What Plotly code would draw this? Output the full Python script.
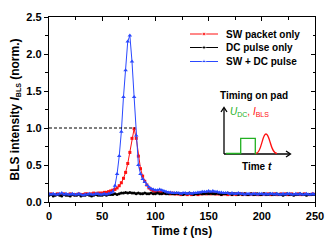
import plotly.graph_objects as go

# ---------------- data ----------------
time_ns = list(range(0, 251, 2))  # 126 samples, 2 ns spacing

sw_packet_only = [
    0.10, 0.11, 0.10, 0.10, 0.11, 0.10, 0.10, 0.11, 0.10, 0.10, 0.11, 0.10, 0.10, 0.10, 0.11, 0.10, 0.10, 0.11, 0.11, 0.10, 0.11, 0.12, 0.11, 0.12, 0.12,
    0.12, 0.13, 0.13, 0.14, 0.15,
    0.16, 0.17, 0.19, 0.22, 0.26, 0.32, 0.40, 0.52, 0.67, 0.86, 0.99, 0.86, 0.62, 0.45, 0.35, 0.28, 0.23, 0.19, 0.17, 0.15,
    0.14, 0.14, 0.13, 0.13, 0.12, 0.12, 0.12, 0.11, 0.12, 0.11, 0.11, 0.11, 0.10, 0.11, 0.11, 0.10, 0.11, 0.10, 0.11, 0.11, 0.10, 0.11, 0.11, 0.12, 0.11,
    0.12, 0.11, 0.12, 0.11, 0.11, 0.11, 0.10, 0.11, 0.11, 0.10, 0.11, 0.10, 0.11, 0.10, 0.11, 0.11, 0.10, 0.11, 0.10, 0.10, 0.11, 0.10, 0.11, 0.10, 0.10,
    0.10, 0.11, 0.10, 0.11, 0.10, 0.10, 0.11, 0.10, 0.10, 0.11, 0.10, 0.11, 0.10, 0.10, 0.11, 0.10, 0.10, 0.11, 0.10, 0.10, 0.11, 0.10, 0.10, 0.10, 0.11, 0.10,
]

dc_pulse_only = [
    0.09, 0.10, 0.08, 0.09, 0.10, 0.09, 0.08, 0.10, 0.09, 0.09, 0.08, 0.10, 0.09, 0.09, 0.10, 0.08, 0.09, 0.09, 0.10, 0.09, 0.08, 0.09, 0.10, 0.09, 0.09,
    0.09, 0.10, 0.09, 0.10, 0.10,
    0.10, 0.11, 0.10, 0.11, 0.12, 0.12, 0.13, 0.12, 0.13, 0.12, 0.12, 0.11, 0.12, 0.11, 0.11, 0.12, 0.11, 0.11, 0.12, 0.11,
    0.11, 0.12, 0.11, 0.11, 0.12, 0.11, 0.11, 0.12, 0.11, 0.11, 0.12, 0.11, 0.11, 0.10, 0.11, 0.11, 0.12, 0.11, 0.10, 0.11, 0.11, 0.12, 0.11, 0.11, 0.12,
    0.11, 0.12, 0.11, 0.11, 0.12, 0.11, 0.10, 0.11, 0.11, 0.12, 0.11, 0.10, 0.11, 0.11, 0.10, 0.11, 0.10, 0.11, 0.10, 0.10, 0.11, 0.10, 0.10, 0.11, 0.10,
    0.10, 0.11, 0.10, 0.10, 0.11, 0.10, 0.10, 0.11, 0.10, 0.10, 0.09, 0.10, 0.11, 0.10, 0.10, 0.09, 0.10, 0.10, 0.11, 0.10, 0.10, 0.09, 0.10, 0.10, 0.10, 0.10,
]

sw_plus_dc = [
    0.11, 0.10, 0.11, 0.10, 0.10, 0.11, 0.12, 0.10, 0.11, 0.10, 0.10, 0.11, 0.10, 0.10, 0.11, 0.10, 0.09, 0.10, 0.10, 0.11, 0.10, 0.10, 0.11, 0.11, 0.10,
    0.10, 0.11, 0.10, 0.11, 0.12,
    0.14, 0.22, 0.38, 0.62, 0.95, 1.42, 1.78, 2.17, 2.25, 1.90, 1.42, 0.90, 0.50, 0.38, 0.31, 0.27, 0.23, 0.20, 0.18, 0.17,
    0.16, 0.16, 0.17, 0.16, 0.15, 0.14, 0.13, 0.13, 0.12, 0.12, 0.12, 0.12, 0.11, 0.12, 0.12, 0.11, 0.12, 0.11, 0.12, 0.12, 0.13, 0.13, 0.14, 0.14, 0.14,
    0.15, 0.14, 0.15, 0.14, 0.14, 0.13, 0.13, 0.12, 0.12, 0.12, 0.11, 0.12, 0.11, 0.11, 0.12, 0.11, 0.11, 0.10, 0.11, 0.11, 0.10, 0.11, 0.11, 0.10, 0.11,
    0.11, 0.10, 0.11, 0.10, 0.11, 0.11, 0.10, 0.11, 0.10, 0.10, 0.11, 0.10, 0.11, 0.11, 0.10, 0.10, 0.11, 0.10, 0.11, 0.10, 0.10, 0.11, 0.10, 0.10, 0.11, 0.10,
]

series_names = ["SW packet only", "DC pulse only", "SW + DC pulse"]
x_ticks = [0, 50, 100, 150, 200, 250]
y_ticks = [0.0, 0.5, 1.0, 1.5, 2.0, 2.5]

# ---------------- figure ----------------
FONT = "Liberation Sans, Arial, sans-serif"
RED = "#ff1010"
BLUE = "#2a48ff"
GREEN = "#22b022"

L, T, W, H = 49, 17, 266, 185  # plot area in pixels

styles = [
    dict(color=RED, symbol="square", size=3),
    dict(color="black", symbol="circle", size=3),
    dict(color=BLUE, symbol="triangle-up", size=4),
]
series = [sw_packet_only, dc_pulse_only, sw_plus_dc]

fig = go.Figure()
for name, ys, st in zip(series_names, series, styles):
    fig.add_trace(go.Scatter(x=time_ns, y=ys, mode="lines+markers", name=name, showlegend=False,
                             line=dict(color=st["color"], width=1),
                             marker=dict(symbol=st["symbol"], size=st["size"], color=st["color"])))

# dummy trace for the mirrored inside-tick axes
fig.add_trace(go.Scatter(x=[None], y=[None], xaxis="x2", yaxis="y2", showlegend=False, hoverinfo="skip"))

# --- legend drawn on a pixel-coordinate overlay axis (x3/y3) ---
leg_rows = [34, 47.5, 61.5]
for name, st, ry in zip(series_names, styles, leg_rows):
    fig.add_trace(go.Scatter(x=[190, 204, 218], y=[ry, ry, ry], xaxis="x3", yaxis="y3",
                             mode="lines+markers", showlegend=False, hoverinfo="skip",
                             line=dict(color=st["color"], width=1),
                             marker=dict(symbol=st["symbol"], size=[0, st["size"] + 0.5, 0], color=st["color"])))
    fig.add_annotation(x=224, y=ry, xref="x3", yref="y3", xanchor="left", yanchor="middle", text=name,
                       showarrow=False, font=dict(size=10, family=FONT, color="black", weight="bold"))

# dashed reference line at 1.0 up to the SW-only peak
peak_t = time_ns[sw_packet_only.index(max(sw_packet_only))]
fig.add_shape(type="line", xref="x", yref="y", x0=0, x1=peak_t + 1, y0=1.0, y1=1.0,
              line=dict(color="black", width=1, dash="3px,2px"))

# --- inset schematic (pixel coords on overlay axis x3/y3) ---
def path(cmds):
    return " ".join(c if isinstance(c, str) else f"{c[0]},{c[1]}" for c in cmds)

ink = dict(color="black", width=1.3)
for cmds, ln in [
    (["M", (224, 154), "L", (224, 108)], ink),
    (["M", (221, 112), "L", (224, 107.5), "L", (227, 112)], ink),
    (["M", (224, 154), "L", (290, 154)], ink),
    (["M", (286, 151), "L", (290.5, 154), "L", (286, 157)], ink),
    (["M", (226, 153.5), "L", (240.7, 153.5), "L", (240.7, 138.3), "L", (255.3, 138.3),
      "L", (255.3, 153.5), "L", (257, 153.5)], dict(color=GREEN, width=1.3)),
    (["M", (256, 153.5), "C", (261.5, 153.5), (262, 134), (266, 134),
      "C", (270, 134), (270.5, 153.5), (277, 153.5)], dict(color=RED, width=1.3)),
]:
    fig.add_shape(type="path", xref="x3", yref="y3", path=path(cmds), line=ln)

SUB = '<sub><span style="font-size:7px">{}</span></sub>'
fig.add_annotation(x=254, y=95, xref="x3", yref="y3", text="Timing on pad",
                   showarrow=False, font=dict(size=10, family=FONT, color="black", weight="bold"))
fig.add_annotation(x=228, y=112, xref="x3", yref="y3", xanchor="left",
                   text=f'<span style="color:{GREEN}"><i>U</i>{SUB.format("DC")}</span>'
                        f'<span style="color:{RED}">, <i>I</i>{SUB.format("BLS")}</span>',
                   showarrow=False, font=dict(size=10, family=FONT, weight="normal"))
fig.add_annotation(x=257, y=166, xref="x3", yref="y3", text="Time <i>t</i>",
                   showarrow=False, font=dict(size=10, family=FONT, color="black", weight="bold"))

axis_common = dict(showline=True, linecolor="black", linewidth=1.3, showgrid=False, zeroline=False,
                   tickcolor="black", tickwidth=1.2, ticklen=4, automargin=False,
                   tickfont=dict(size=11, family=FONT, color="black", weight="bold"))
hidden = dict(visible=False, showgrid=False, zeroline=False, fixedrange=True)

fig.update_layout(
    width=335, height=246,
    margin=dict(l=L, r=335 - L - W, t=T, b=246 - T - H),
    paper_bgcolor="white", plot_bgcolor="rgba(0,0,0,0)",
    font=dict(family=FONT, color="black", weight="bold"),
    showlegend=False,
    xaxis=dict(range=[0, 250], tickvals=x_ticks, ticks="outside", mirror=True,
               minor=dict(ticks="outside", dtick=25, ticklen=2.5, tickcolor="black", tickwidth=1),
               title=dict(text="Time <i>t</i> (ns)", font=dict(size=12, family=FONT, weight="bold"), standoff=5),
               **axis_common),
    yaxis=dict(range=[0, 2.5], tickvals=y_ticks, tickformat=".1f", ticks="outside", mirror=True,
               minor=dict(ticks="outside", dtick=0.25, ticklen=2.5, tickcolor="black", tickwidth=1),
               title=dict(text="BLS intensity <i>I</i>" + SUB.format("BLS") + " (norm.)",
                          font=dict(size=12, family=FONT, weight="bold"), standoff=4),
               **axis_common),
    xaxis2=dict(overlaying="x", side="top", anchor="y", range=[0, 250], tickvals=x_ticks, ticks="inside",
                ticklen=4, tickwidth=1.2, tickcolor="black", showticklabels=False, showline=False,
                showgrid=False, zeroline=False, automargin=False,
                minor=dict(ticks="inside", dtick=25, ticklen=2.5, tickcolor="black", tickwidth=1)),
    yaxis2=dict(overlaying="y", side="right", anchor="x", range=[0, 2.5], tickvals=y_ticks, ticks="inside",
                ticklen=4, tickwidth=1.2, tickcolor="black", showticklabels=False, showline=False,
                showgrid=False, zeroline=False, automargin=False,
                minor=dict(ticks="inside", dtick=0.25, ticklen=2.5, tickcolor="black", tickwidth=1)),
    xaxis3=dict(domain=[0, 1], anchor="y3", range=[L, L + W], **hidden),
    yaxis3=dict(domain=[0, 1], anchor="x3", range=[T + H, T], **hidden),
)

fig.write_html("out.html", config={"displayModeBar": False},
               post_script="document.body.style.margin='0px';document.body.style.padding='0px';")
